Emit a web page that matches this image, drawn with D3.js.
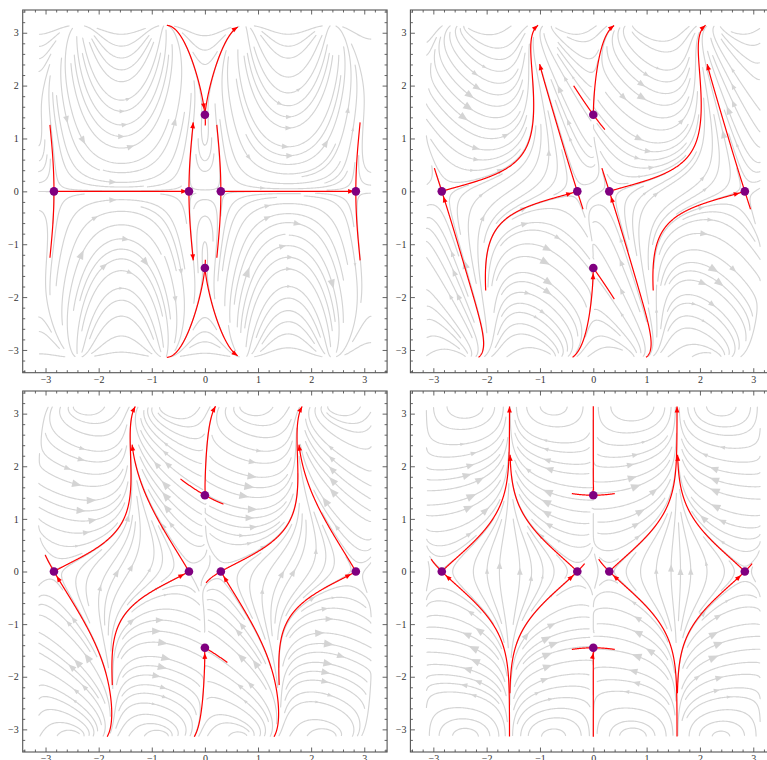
<!DOCTYPE html>
<html>
<head>
<meta charset="utf-8">
<script src="https://cdn.jsdelivr.net/npm/d3@7"></script>
<style>
  body { margin: 0; background: #fff; }
  svg { display: block; }
</style>
</head>
<body>
<svg id="chart" width="767" height="760"></svg>
<script>
// ---------- data ----------
// Field: f = k0 + k1 cos2x + k2 cos y + k3 cos2x cos y + k4 cos2y ; g = k5 sin2x sin y
// each panel turns the (f, g) vector by its own angle (degrees)
const fieldCoefficients = [0.563, -0.708, 0.398, -0.292, -0.136, -2.0];
const panelAngles = [0, 35, 60, 90];

// saddle points shared by every panel
const saddlePoints = [[-2.8416, 0], [-0.3, 0], [0.3, 0], [2.8416, 0], [0, 1.45], [0, -1.45]];

// separatrix branches: [saddle index, start direction (deg), max length, arrow: 1 far end, -1 at saddle, 0 none]
const branchesA = [
  [0, 0, 2.6, 1], [0, 90, 1.25, 0], [0, -90, 1.25, 0],
  [1, 90, 1.3, 1], [1, -90, 1.3, 1],
  [2, 0, 2.6, 1], [2, 90, 1.25, 0], [2, -90, 1.25, 0],
  [3, 90, 1.3, 0], [3, -90, 1.3, 0],
  [4, 100, 1.9, -1], [4, 80, 1.8, 1], [4, -80, 0.2, 0],
  [5, -100, 1.9, 0], [5, -80, 1.8, 1], [5, 80, 0.15, 0]
];
const branchesB = [
  [0, 30, 6, 1], [0, 145, 0.45, 0], [0, -75, 6, -1],
  [1, 100, 2.5, 1], [1, -30, 0.35, 0], [1, -150, 2.9, -1],
  [2, 30, 6, 1], [2, 145, 0.45, 0], [2, -75, 6, -1],
  [3, 100, 2.5, 1], [3, -30, 0.35, 0], [3, -150, 2.9, -1],
  [4, 75, 6, 1], [4, 160, 0.65, 0], [4, -55, 0.35, 0],
  [5, -105, 6, -1], [5, -20, 0.7, 0]
];
const branchesC = [
  [0, 40, 6, 1], [0, 165, 0.35, 0], [0, -65, 6, -1],
  [1, 115, 2.65, 1], [1, -140, 2.85, -1],
  [2, 40, 6, 1], [2, 165, 0.35, 0], [2, -65, 6, -1],
  [3, 115, 2.65, 1], [3, -140, 2.85, -1],
  [4, 85, 6, 1], [4, 180, 0.55, 0], [4, -40, 0.38, 0],
  [5, -95, 6, -1], [5, 120, 0.3, 0], [5, 0, 0.5, 0]
];
const branchesD = [
  [0, 55, 6, 1], [0, 170, 0.3, 0], [0, -55, 6, -1],
  [1, 125, 2.65, 1], [1, 10, 0.2, 0], [1, -125, 2.75, -1],
  [2, 55, 6, 1], [2, 170, 0.3, 0], [2, -55, 6, -1],
  [3, 125, 2.65, 1], [3, 10, 0.2, 0], [3, -125, 2.75, -1],
  [4, 90, 6, 0], [4, -165, 0.4, 0], [4, -15, 0.4, 0],
  [5, -90, 6, -1], [5, 165, 0.4, 0], [5, 15, 0.4, 0]
];
const panelBranches = [branchesA, branchesB, branchesC, branchesD];

const axisDomain = [-3.43, 3.43];
const majorTicks = [-3, -2, -1, 0, 1, 2, 3];
const minorTicks = [-3.4, -3.2, -2.8, -2.6, -2.4, -2.2, -1.8, -1.6, -1.4, -1.2, -0.8, -0.6, -0.4, -0.2,
                    0.2, 0.4, 0.6, 0.8, 1.2, 1.4, 1.6, 1.8, 2.2, 2.4, 2.6, 2.8, 3.2, 3.4];

// ---------- layout & style ----------
const panelBoxes = [
  [22.7, 10, 387.1, 372.7],
  [410.4, 10, 776.2, 372.7],
  [22.7, 391, 387.1, 752],
  [410.4, 391, 776.2, 752]
];
const STREAM_COLOR = "#d4d4d4";
const SEP_COLOR = "#ff0000";
const POINT_COLOR = "#800080";
const FRAME_COLOR = "#555";
const LIM = 3.13;

// ---------- vector field ----------
function makeField(deg) {
  const k = fieldCoefficients;
  const c = Math.cos(deg * Math.PI / 180), s = Math.sin(deg * Math.PI / 180);
  return (x, y) => {
    const c2 = Math.cos(2 * x), cy = Math.cos(y);
    const f = k[0] + k[1] * c2 + k[2] * cy + k[3] * c2 * cy + k[4] * Math.cos(2 * y);
    const g = k[5] * Math.sin(2 * x) * Math.sin(y);
    return [c * f - s * g, s * f + c * g];
  };
}

function stepRK(field, x, y, dir, h) {
  let v = field(x, y);
  let m = Math.hypot(v[0], v[1]);
  if (m < 1e-9) return null;
  const xm = x + dir * v[0] / m * h / 2, ym = y + dir * v[1] / m * h / 2;
  v = field(xm, ym);
  m = Math.hypot(v[0], v[1]);
  if (m < 1e-9) return null;
  return [x + dir * v[0] / m * h, y + dir * v[1] / m * h];
}

// evenly spaced streamlines
function traceStreamlines(field, opt) {
  const { dsep, dtest, h, maxLen, minLen } = opt;
  const lim = LIM;
  const cell = dsep, n = Math.ceil(2 * lim / cell) + 1;
  const grid = Array.from({ length: n * n }, () => []);
  const dead = new Set();
  const selfGap = Math.ceil(3 * dsep / h);
  const cellOf = (x, y) => [Math.floor((x + lim) / cell), Math.floor((y + lim) / cell)];
  function add(x, y, id, k) {
    const [i, j] = cellOf(x, y);
    if (i >= 0 && j >= 0 && i < n && j < n) grid[j * n + i].push([x, y, id, k]);
  }
  function blocked(x, y, d, id, k) {
    const [i, j] = cellOf(x, y);
    for (let dj = -1; dj <= 1; dj++) for (let di = -1; di <= 1; di++) {
      const ii = i + di, jj = j + dj;
      if (ii < 0 || jj < 0 || ii >= n || jj >= n) continue;
      for (const p of grid[jj * n + ii]) {
        if (dead.has(p[2])) continue;
        if (p[2] === id && Math.abs(p[3] - k) < selfGap) continue;
        const dx = p[0] - x, dy = p[1] - y;
        if (dx * dx + dy * dy < d * d) return true;
      }
    }
    return false;
  }
  function grow(x0, y0, dir, id) {
    const pts = [];
    let x = x0, y = y0, len = 0, k = 0, px = 0, py = 0;
    while (len < maxLen) {
      const nx = stepRK(field, x, y, dir, h);
      if (!nx) break;
      const [x1, y1] = nx;
      if (Math.abs(x1) > lim || Math.abs(y1) > lim) break;
      const ux = x1 - x, uy = y1 - y;
      if (k > 0 && ux * px + uy * py < 0) break;
      k++;
      if (blocked(x1, y1, dtest, id, dir * k)) break;
      pts.push([x1, y1]);
      add(x1, y1, id, dir * k);
      len += h; x = x1; y = y1; px = ux; py = uy;
    }
    return pts;
  }
  const lines = [];
  const sp = dsep * 0.7;
  const m = Math.floor(2 * lim / sp);
  const seeds = [];
  for (let j = 0; j < m; j++) for (let i = 0; i < m; i++)
    seeds.push([-lim + (i + 0.5) * sp, -lim + (j + 0.5) * sp]);
  const N = seeds.length;
  let prime = 7919; while (N % prime === 0) prime += 2;
  for (let t = 0; t < N; t++) {
    const s = seeds[(t * prime) % N];
    if (blocked(s[0], s[1], dsep, -1, 0)) continue;
    const id = lines.length;
    add(s[0], s[1], id, 0);
    const fw = grow(s[0], s[1], 1, id);
    const bw = grow(s[0], s[1], -1, id);
    const pts = bw.reverse().concat([s], fw);
    if ((pts.length - 1) * h < minLen) { dead.add(id); lines.push(null); continue; }
    lines.push(pts);
  }
  return lines.filter(d => d);
}

function jacobian(field, p) {
  const e = 1e-5;
  const a = field(p[0] + e, p[1]), b = field(p[0] - e, p[1]);
  const c = field(p[0], p[1] + e), d = field(p[0], p[1] - e);
  return [[(a[0] - b[0]) / (2 * e), (c[0] - d[0]) / (2 * e)],
          [(a[1] - b[1]) / (2 * e), (c[1] - d[1]) / (2 * e)]];
}

function eigenDirections(J) {
  const tr = J[0][0] + J[1][1], det = J[0][0] * J[1][1] - J[0][1] * J[1][0];
  const disc = Math.sqrt(Math.max(tr * tr / 4 - det, 0));
  const out = [];
  for (const lam of [tr / 2 + disc, tr / 2 - disc]) {
    let v1 = [J[0][1], lam - J[0][0]], v2 = [lam - J[1][1], J[1][0]];
    let v = Math.hypot(...v1) > Math.hypot(...v2) ? v1 : v2;
    const m = Math.hypot(v[0], v[1]);
    v = [v[0] / m, v[1] / m];
    out.push({ v, lam }, { v: [-v[0], -v[1]], lam });
  }
  return out;
}

function traceBranch(field, idx, angle, cap) {
  const p = saddlePoints[idx];
  const dirs = eigenDirections(jacobian(field, p));
  const a = angle * Math.PI / 180, want = [Math.cos(a), Math.sin(a)];
  let best = dirs[0], bd = -2;
  for (const d of dirs) {
    const dot = d.v[0] * want[0] + d.v[1] * want[1];
    if (dot > bd) { bd = dot; best = d; }
  }
  const sign = best.lam > 0 ? 1 : -1;
  const h = 0.008;
  let x = p[0] + 0.004 * best.v[0], y = p[1] + 0.004 * best.v[1];
  const pts = [p, [x, y]];
  let len = 0;
  while (len < cap) {
    const nx = stepRK(field, x, y, sign, h);
    if (!nx) break;
    if (Math.abs(nx[0]) > Math.PI || Math.abs(nx[1]) > Math.PI) break;
    let hit = false;
    saddlePoints.forEach((q, k) => {
      if (k !== idx && Math.hypot(nx[0] - q[0], nx[1] - q[1]) < 0.04) hit = true;
    });
    pts.push(nx);
    if (hit) break;
    x = nx[0]; y = nx[1]; len += h;
  }
  return pts;
}

// ---------- drawing ----------
const svg = d3.select("#chart");
const fmt = d => (d < 0 ? "\u2212" + (-d) : String(d));

function arrowPath(tip, u, L, w) {
  const bx = tip[0] - u[0] * L, by = tip[1] - u[1] * L;
  const nx = -u[1], ny = u[0];
  return `M${tip[0]},${tip[1]}L${bx + nx * w},${by + ny * w}L${bx - nx * w},${by - ny * w}Z`;
}

function drawPanel(box, angle, branches) {
  const g = svg.append("g");
  const x = d3.scaleLinear().domain(axisDomain).range([box[0], box[2]]);
  const y = d3.scaleLinear().domain(axisDomain).range([box[3], box[1]]);
  const field = makeField(angle);
  const line = d3.line().x(d => x(d[0])).y(d => y(d[1])).curve(d3.curveLinear);

  // grey streamlines
  const lines = traceStreamlines(field, { dsep: 0.16, dtest: 0.07, h: 0.02, maxLen: 2.2, minLen: 0.3 });
  g.append("g").selectAll("path").data(lines).join("path")
    .attr("d", d => line(d))
    .attr("fill", "none").attr("stroke", STREAM_COLOR)
    .attr("stroke-width", 1.15).attr("stroke-linecap", "round");

  // arrowheads sized by local speed
  let smax = 0;
  for (let i = -3; i <= 3; i += 0.1) for (let j = -3; j <= 3; j += 0.1) {
    const v = field(i, j); smax = Math.max(smax, Math.hypot(v[0], v[1]));
  }
  const heads = [];
  lines.forEach(pts => {
    const mid = pts[Math.floor(pts.length / 2)];
    const v = field(mid[0], mid[1]);
    const s = Math.hypot(v[0], v[1]);
    const L = 10 * Math.pow(s / smax, 1.7);
    if (L < 3.4) return;
    const u = [v[0] / s, -v[1] / s];
    const c = [x(mid[0]), y(mid[1])];
    heads.push(arrowPath([c[0] + u[0] * L / 2, c[1] + u[1] * L / 2], u, L, L * 0.4));
  });
  g.append("g").selectAll("path").data(heads).join("path")
    .attr("d", d => d).attr("fill", STREAM_COLOR);

  // separatrices
  const red = g.append("g");
  branches.forEach(([idx, ang, cap, head]) => {
    const pts = traceBranch(field, idx, ang, cap);
    red.append("path").attr("d", line(pts)).attr("fill", "none")
      .attr("stroke", SEP_COLOR).attr("stroke-width", 1.2);
    const px = pts.map(p => [x(p[0]), y(p[1])]);
    if (head === 1 && px.length > 6) {
      const a = px[px.length - 1], b = px[px.length - 6];
      const m = Math.hypot(a[0] - b[0], a[1] - b[1]);
      red.append("path").attr("d", arrowPath(a, [(a[0] - b[0]) / m, (a[1] - b[1]) / m], 6, 2.4))
        .attr("fill", SEP_COLOR);
    } else if (head === -1 && px.length > 30) {
      let k = 1;
      while (k < px.length - 6 && Math.hypot(px[k][0] - px[0][0], px[k][1] - px[0][1]) < 5) k++;
      const a = px[k], b = px[k + 5];
      const m = Math.hypot(a[0] - b[0], a[1] - b[1]);
      red.append("path").attr("d", arrowPath(a, [(a[0] - b[0]) / m, (a[1] - b[1]) / m], 6, 2.4))
        .attr("fill", SEP_COLOR);
    }
  });

  // saddle points
  g.append("g").selectAll("circle").data(saddlePoints).join("circle")
    .attr("cx", d => x(d[0])).attr("cy", d => y(d[1])).attr("r", 4.3)
    .attr("fill", POINT_COLOR);

  // frame with ticks on all sides
  const ax = g.append("g");
  const style = sel => {
    sel.select(".domain").remove();
    sel.selectAll("line").attr("stroke", FRAME_COLOR).attr("stroke-width", 0.9);
    sel.selectAll("text").attr("fill", "#333").attr("font-family", "'Liberation Serif', serif").attr("font-size", 10);
  };
  ax.append("g").attr("transform", `translate(0,${box[3]})`)
    .call(d3.axisBottom(x).tickValues(majorTicks).tickSize(-4.5).tickPadding(3).tickFormat(fmt)).call(style);
  ax.append("g").attr("transform", `translate(0,${box[3]})`)
    .call(d3.axisBottom(x).tickValues(minorTicks).tickSize(-2.5).tickFormat("")).call(style);
  ax.append("g").attr("transform", `translate(0,${box[1]})`)
    .call(d3.axisTop(x).tickValues(majorTicks).tickSize(-4.5).tickFormat("")).call(style);
  ax.append("g").attr("transform", `translate(0,${box[1]})`)
    .call(d3.axisTop(x).tickValues(minorTicks).tickSize(-2.5).tickFormat("")).call(style);
  ax.append("g").attr("transform", `translate(${box[0]},0)`)
    .call(d3.axisLeft(y).tickValues(majorTicks).tickSize(-4.5).tickPadding(4).tickFormat(fmt)).call(style);
  ax.append("g").attr("transform", `translate(${box[0]},0)`)
    .call(d3.axisLeft(y).tickValues(minorTicks).tickSize(-2.5).tickFormat("")).call(style);
  ax.append("g").attr("transform", `translate(${box[2]},0)`)
    .call(d3.axisRight(y).tickValues(majorTicks).tickSize(-4.5).tickFormat("")).call(style);
  ax.append("g").attr("transform", `translate(${box[2]},0)`)
    .call(d3.axisRight(y).tickValues(minorTicks).tickSize(-2.5).tickFormat("")).call(style);
  g.append("rect").attr("x", box[0]).attr("y", box[1])
    .attr("width", box[2] - box[0]).attr("height", box[3] - box[1])
    .attr("fill", "none").attr("stroke", FRAME_COLOR).attr("stroke-width", 1.1);
}

panelBoxes.forEach((box, i) => drawPanel(box, panelAngles[i], panelBranches[i]));
</script>
</body>
</html>
